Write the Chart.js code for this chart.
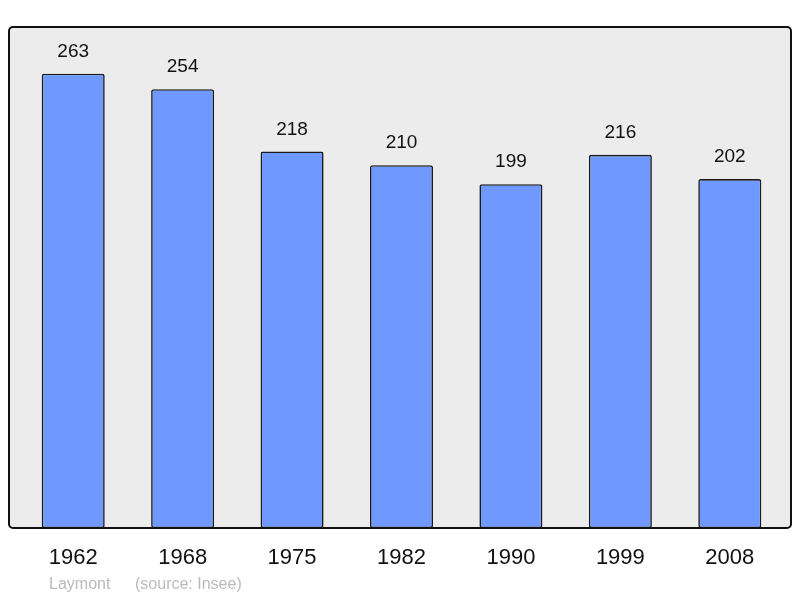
<!DOCTYPE html>
<html>
<head>
<meta charset="utf-8">
<script src="https://cdn.jsdelivr.net/npm/chart.js@4/dist/chart.umd.min.js"></script>
<style>
  html, body { margin: 0; padding: 0; background: #fff; }
  #wrap { width: 800px; height: 598px; position: relative; }
</style>
</head>
<body>
<div id="wrap"><canvas id="chart"></canvas></div>
<script>
const years = ["1962", "1968", "1975", "1982", "1990", "1999", "2008"]
const population = [263, 254, 218, 210, 199, 216, 202]
const footerName = "Laymont"
const footerSource = "(source: Insee)"

const frame = {
    id: "frame",
    beforeDraw(chart) {
        const { ctx, chartArea: a } = chart
        const x = a.left - 9.5, y = a.top, w = a.right - a.left + 16, h = a.bottom - a.top
        ctx.save()
        ctx.beginPath()
        ctx.roundRect(x, y, w, h, 4)
        ctx.fillStyle = "#ececec"
        ctx.fill()
        ctx.restore()
    },
    afterDatasetsDraw(chart) {
        const { ctx, chartArea: a } = chart
        const x = a.left - 9.5, y = a.top, w = a.right - a.left + 16, h = a.bottom - a.top
        ctx.save()
        ctx.beginPath()
        ctx.roundRect(x, y, w, h, 4)
        ctx.lineWidth = 2
        ctx.strokeStyle = "#111"
        ctx.stroke()

        // value labels above bars
        ctx.fillStyle = "#111"
        ctx.font = "19px 'Liberation Sans', Arial, sans-serif"
        ctx.textAlign = "center"
        ctx.textBaseline = "middle"
        chart.getDatasetMeta(0).data.forEach((bar, i) => {
            ctx.fillText(population[i], bar.x, bar.y - 22)
        })

        // footer
        ctx.fillStyle = "#bbbbbb"
        ctx.font = "16px 'Liberation Sans', Arial, sans-serif"
        ctx.textAlign = "left"
        ctx.fillText(footerName, 49, 585)
        ctx.fillText(footerSource, 135, 585)
        ctx.restore()
    }
}

new Chart(document.getElementById("chart"), {
    type: "bar",
    data: {
        labels: years,
        datasets: [{
            data: population,
            backgroundColor: "#7099ff",
            borderColor: "#1a1a1a",
            borderWidth: 1.6,
            borderRadius: 2,
            borderSkipped: false,
            barPercentage: 0.576,
            categoryPercentage: 1,
        }]
    },
    options: {
        responsive: true,
        maintainAspectRatio: false,
        animation: false,
        layout: {
            padding: { left: 18.5, right: 15.5, top: 27, bottom: 17.6 }
        },
        plugins: {
            legend: { display: false },
            tooltip: { enabled: false },
        },
        scales: {
            x: {
                grid: { display: false },
                border: { display: false },
                ticks: {
                    color: "#111",
                    padding: 9,
                    font: { family: "'Liberation Sans', Arial, sans-serif", size: 22 },
                },
            },
            y: {
                min: 0,
                max: 290,
                display: false,
            },
        },
    },
    plugins: [frame],
})
</script>
</body>
</html>
